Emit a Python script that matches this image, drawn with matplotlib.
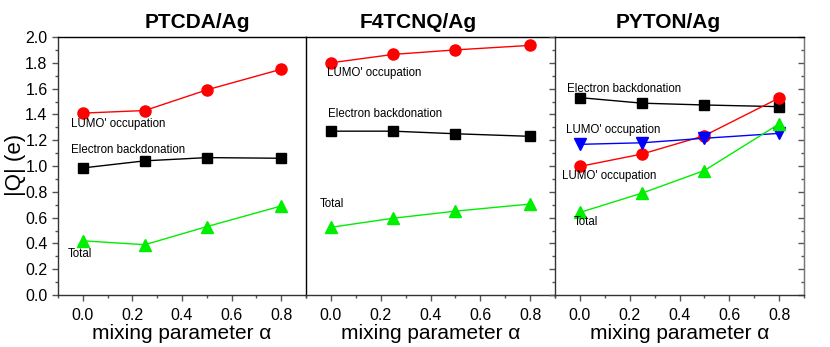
import matplotlib
matplotlib.use("Agg")
import matplotlib.pyplot as plt
from matplotlib.ticker import MultipleLocator

plt.rcParams['font.family'] = ['Liberation Sans', 'DejaVu Sans']

alpha = [0.0, 0.25, 0.5, 0.8]

ptcda_lumo = [1.41, 1.43, 1.59, 1.75]
ptcda_back = [0.985, 1.04, 1.065, 1.06]
ptcda_total = [0.42, 0.39, 0.53, 0.69]

f4_lumo = [1.80, 1.865, 1.90, 1.935]
f4_back = [1.27, 1.27, 1.25, 1.23]
f4_total = [0.525, 0.595, 0.65, 0.705]

py_back = [1.53, 1.487, 1.473, 1.46]
py_lumo_red = [0.997, 1.093, 1.235, 1.527]
py_lumo_blue = [1.168, 1.18, 1.215, 1.253]
py_total = [0.64, 0.79, 0.965, 1.326]

titles = ["PTCDA/Ag", "F4TCNQ/Ag", "PYTON/Ag"]
xlabel = "mixing parameter \u03b1"
ylabel = "|Q| (e)"
lumo_label = "LUMO' occupation"
back_label = "Electron backdonation"
total_label = "Total"

W, H = 830, 347
fig = plt.figure(figsize=(W / 100, H / 100), dpi=100)

def fx(px):
    return px / W

def fy(py):
    return 1 - py / H

ax_left = [58, 306, 555]
ax_right = [306, 555, 804]
top, bot = 37, 295
axes = []
for l, r in zip(ax_left, ax_right):
    ax = fig.add_axes([fx(l), fy(bot), (r - l) / W, (bot - top) / H])
    ax.set_xlim(-0.1, 0.9)
    ax.set_ylim(0, 2.0)
    ax.xaxis.set_major_locator(MultipleLocator(0.2))
    ax.xaxis.set_minor_locator(MultipleLocator(0.1))
    ax.yaxis.set_major_locator(MultipleLocator(0.2))
    ax.yaxis.set_minor_locator(MultipleLocator(0.1))
    ax.tick_params(axis='x', which='major', direction='out', length=4, width=1,
                   labelsize=11.5, pad=5, color='#555555')
    ax.tick_params(axis='x', which='minor', direction='out', length=2, width=1,
                   color='#555555')
    for s in ax.spines.values():
        s.set_linewidth(1.0)
        s.set_color('#333333')
    ax.spines['top'].set_color('black')
    ax.set_xlabel(xlabel, fontsize=15, labelpad=1)
    axes.append(ax)

a1, a2, a3 = axes
a1.tick_params(axis='y', which='major', direction='out', length=4, width=1,
               labelsize=11.5, color='#555555')
a1.tick_params(axis='y', which='minor', direction='out', length=2, width=1,
               color='#555555')
a1.set_yticklabels([f"{v:.1f}" for v in a1.get_yticks()])
a1.spines['right'].set_visible(False)
fig.text(fx(15), fy(165), ylabel, fontsize=16, rotation=90,
         ha='center', va='center')
a2.tick_params(axis='y', which='both', left=False, labelleft=False)
a2.spines['left'].set_color('black')
a2.spines['right'].set_visible(False)
a3.tick_params(axis='y', which='major', direction='out', length=4, width=1,
               labelleft=False, color='#555555')
a3.tick_params(axis='y', which='minor', direction='out', length=2, width=1,
               color='#555555')
a3.spines['right'].set_color('#777777')
sec = a3.secondary_yaxis('right')
sec.yaxis.set_major_locator(MultipleLocator(0.2))
sec.yaxis.set_minor_locator(MultipleLocator(0.1))
sec.tick_params(axis='y', which='major', direction='in', length=4, width=1,
                labelright=False, color='#555555')
sec.tick_params(axis='y', which='minor', direction='in', length=2, width=1,
                color='#555555')
sec.spines['right'].set_color('#777777')

red, black, green, blue = '#ff0000', 'black', '#00ee00', '#0000ff'
kw = dict(linewidth=1.0)
fs = 8.3

a1.plot(alpha, ptcda_lumo, '-o', color=red, ms=8, **kw)
a1.plot(alpha, ptcda_back, '-s', color=black, ms=7, **kw)
a1.plot(alpha, ptcda_total, '-^', color=green, ms=9, **kw)
a1.text(-0.048, 1.326, lumo_label, fontsize=fs, va='center')
a1.text(-0.048, 1.124, back_label, fontsize=fs, va='center')
a1.text(-0.06, 0.318, total_label, fontsize=fs, va='center')

a2.plot(alpha, f4_lumo, '-o', color=red, ms=8, **kw)
a2.plot(alpha, f4_back, '-s', color=black, ms=7, **kw)
a2.plot(alpha, f4_total, '-^', color=green, ms=9, **kw)
a2.text(-0.017, 1.72, lumo_label, fontsize=fs, va='center')
a2.text(-0.012, 1.40, back_label, fontsize=fs, va='center')
a2.text(-0.044, 0.705, total_label, fontsize=fs, va='center')

a3.plot(alpha, py_back, '-s', color=black, ms=7, **kw)
a3.plot(alpha, py_lumo_red, '-o', color=red, ms=8, **kw)
a3.plot(alpha, py_lumo_blue, '-v', color=blue, ms=9, **kw)
a3.plot(alpha, py_total, '-^', color=green, ms=9, **kw)
a3.text(-0.053, 1.597, back_label, fontsize=fs, va='center')
a3.text(-0.057, 1.28, lumo_label, fontsize=fs, va='center')
a3.text(-0.073, 0.92, lumo_label, fontsize=fs, va='center')
a3.text(-0.026, 0.566, total_label, fontsize=fs, va='center')

for title, cx in zip(titles, [197, 418, 668]):
    fig.text(fx(cx), fy(22), title, fontsize=15, fontweight='bold',
             ha='center', va='center')

fig.savefig("out.png", dpi=100)
